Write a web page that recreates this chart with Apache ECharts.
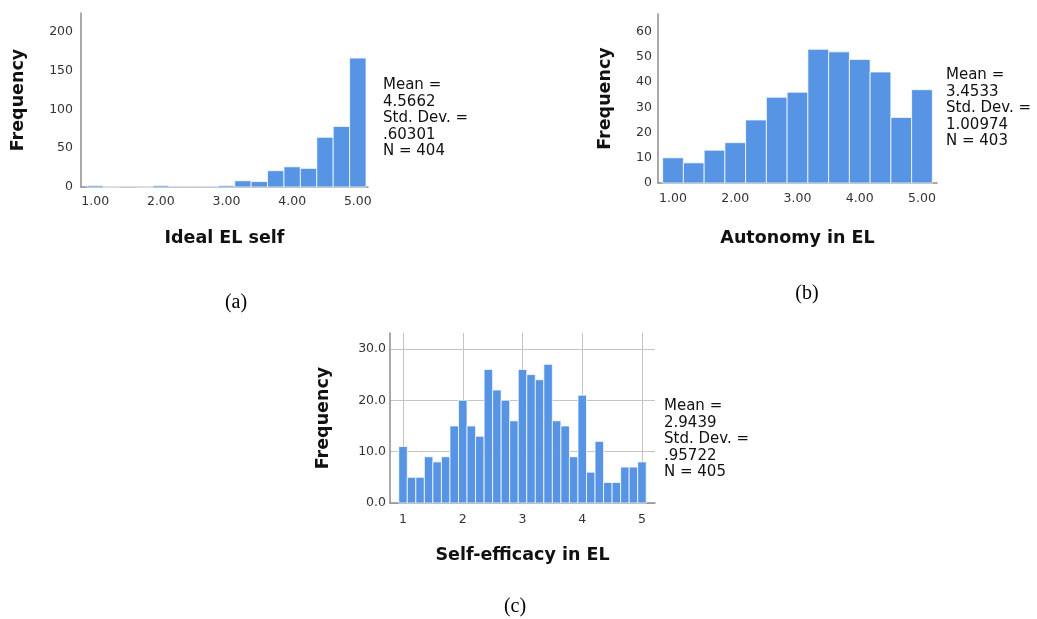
<!DOCTYPE html>
<html>
<head>
<meta charset="utf-8">
<title>Histograms</title>
<script src="https://cdn.jsdelivr.net/npm/echarts@6.0.0/dist/echarts.min.js"></script>
<style>
  html, body { margin: 0; padding: 0; background: #fff; }
  #chart { width: 1037px; height: 619px; }
</style>
</head>
<body>
<div id="chart"></div>
<script>
// (a) Ideal EL self
const idealBins = [1.00, 1.25, 1.50, 1.75, 2.00, 2.25, 2.50, 2.75, 3.00, 3.25, 3.50, 3.75, 4.00, 4.25, 4.50, 4.75, 5.00]
const idealCounts = [2, 0, 1, 0, 2, 1, 1, 1, 2, 8, 7, 21, 26, 24, 64, 78, 166]
const idealStats = ['Mean =', '4.5662', 'Std. Dev. =', '.60301', 'N = 404']

// (b) Autonomy in EL
const autonomyBins = [1.0000, 1.3333, 1.6667, 2.0000, 2.3333, 2.6667, 3.0000, 3.3333, 3.6667, 4.0000, 4.3333, 4.6667, 5.0000]
const autonomyCounts = [10, 8, 13, 16, 25, 34, 36, 53, 52, 49, 44, 26, 37]
const autonomyStats = ['Mean =', '3.4533', 'Std. Dev. =', '1.00974', 'N = 403']

// (c) Self-efficacy in EL
const efficacyBins = [1.0000, 1.1429, 1.2857, 1.4286, 1.5714, 1.7143, 1.8571, 2.0000, 2.1429, 2.2857,
  2.4286, 2.5714, 2.7143, 2.8571, 3.0000, 3.1429, 3.2857, 3.4286, 3.5714, 3.7143,
  3.8571, 4.0000, 4.1429, 4.2857, 4.4286, 4.5714, 4.7143, 4.8571, 5.0000]
const efficacyCounts = [11, 5, 5, 9, 8, 9, 15, 20, 15, 13, 26, 22, 20, 16, 26, 25, 24, 27, 16, 15, 9, 21, 6, 12, 4, 4, 7, 7, 8]
const efficacyStats = ['Mean =', '2.9439', 'Std. Dev. =', '.95722', 'N = 405']

const xTicks = [1, 2, 3, 4, 5]
const idealYTicks = [0, 50, 100, 150, 200]
const autonomyYTicks = [0, 10, 20, 30, 40, 50, 60]
const efficacyYTicks = [0, 10, 20, 30]

const barColor = '#5795e4'
const axisColor = '#8c8c8c'
const labelColor = '#333'
const titleFont = { color: '#111', fontFamily: 'DejaVu Sans', fontWeight: 'bold', fontSize: 17.5 }

function pairs (bins, counts) {
  return bins.map((b, i) => [b, counts[i]])
}

function renderBar (binWidth) {
  return function (params, api) {
    const x = api.value(0)
    const y = api.value(1)
    const p0 = api.coord([x - binWidth / 2, y])
    const p1 = api.coord([x + binWidth / 2, 0])
    return {
      type: 'rect',
      shape: { x: p0[0], y: p0[1], width: p1[0] - p0[0], height: p1[1] - p0[1] },
      style: { fill: barColor, stroke: 'rgba(255,255,255,0.75)', lineWidth: 1 }
    }
  }
}

function xAxisOf (idx, min, max, name, gap, labelMargin, fmt, grid) {
  return {
    type: 'value',
    gridIndex: idx,
    min: min,
    max: max,
    name: name,
    nameLocation: 'middle',
    nameGap: gap,
    nameTextStyle: titleFont,
    axisLine: { show: true, lineStyle: { color: axisColor, width: 1.5 } },
    axisTick: { show: false, customValues: xTicks },
    axisLabel: {
      customValues: xTicks,
      margin: labelMargin,
      color: labelColor,
      fontFamily: 'DejaVu Sans',
      fontSize: 12.5,
      formatter: fmt
    },
    splitLine: { show: grid, lineStyle: { color: '#c4c4c4', width: 1 } }
  }
}

function yAxisOf (idx, max, ticks, gap, labelMargin, fmt, grid) {
  return {
    type: 'value',
    gridIndex: idx,
    min: 0,
    max: max,
    name: 'Frequency',
    nameLocation: 'middle',
    nameRotate: 90,
    nameGap: gap,
    nameTextStyle: titleFont,
    axisLine: { show: true, lineStyle: { color: axisColor, width: 1.5 } },
    axisTick: { show: false, customValues: ticks },
    axisLabel: {
      customValues: ticks,
      margin: labelMargin,
      color: labelColor,
      fontFamily: 'DejaVu Sans',
      fontSize: 12.5,
      formatter: fmt
    },
    splitLine: { show: grid, lineStyle: { color: '#c4c4c4', width: 1 } }
  }
}

function statsText (lines, left, top) {
  return {
    type: 'text',
    left: left,
    top: top,
    style: {
      text: lines.join('\n'),
      fill: '#111',
      font: '15px "DejaVu Sans"',
      lineHeight: 16.5
    }
  }
}

function panelLabel (text, cx, cy) {
  return {
    type: 'text',
    x: cx,
    y: cy,
    style: {
      text: text,
      fill: '#000',
      font: '20px "Liberation Serif"',
      align: 'center',
      verticalAlign: 'middle'
    }
  }
}

const chart = echarts.init(document.getElementById('chart'))

chart.setOption({
  animation: false,
  grid: [
    { left: 81, top: 13, width: 287, height: 174 },
    { left: 658, top: 14, width: 279, height: 169 },
    { left: 390, top: 333, width: 265, height: 170 }
  ],
  xAxis: [
    xAxisOf(0, 0.784, 5.155, 'Ideal EL self', 42, 8, v => v.toFixed(2), false),
    xAxisOf(1, 0.759, 5.241, 'Autonomy in EL', 46, 9, v => v.toFixed(2), false),
    xAxisOf(2, 0.782, 5.218, 'Self-efficacy in EL', 43, 10, v => String(v), true)
  ],
  yAxis: [
    yAxisOf(0, 224, idealYTicks, 54, 8, v => String(v), false),
    yAxisOf(1, 67, autonomyYTicks, 44, 6, v => String(v), false),
    yAxisOf(2, 33.1, efficacyYTicks, 58, 4, v => v.toFixed(1), true)
  ],
  series: [
    {
      type: 'custom',
      xAxisIndex: 0,
      yAxisIndex: 0,
      renderItem: renderBar(0.25),
      data: pairs(idealBins, idealCounts)
    },
    {
      type: 'custom',
      xAxisIndex: 1,
      yAxisIndex: 1,
      renderItem: renderBar(1 / 3),
      data: pairs(autonomyBins, autonomyCounts)
    },
    {
      type: 'custom',
      xAxisIndex: 2,
      yAxisIndex: 2,
      renderItem: renderBar(1 / 7),
      data: pairs(efficacyBins, efficacyCounts)
    }
  ],
  graphic: [
    statsText(idealStats, 383, 77),
    statsText(autonomyStats, 946, 67),
    statsText(efficacyStats, 664, 398),
    panelLabel('(a)', 236, 303),
    panelLabel('(b)', 807, 294),
    panelLabel('(c)', 515, 607)
  ]
})
</script>
</body>
</html>
